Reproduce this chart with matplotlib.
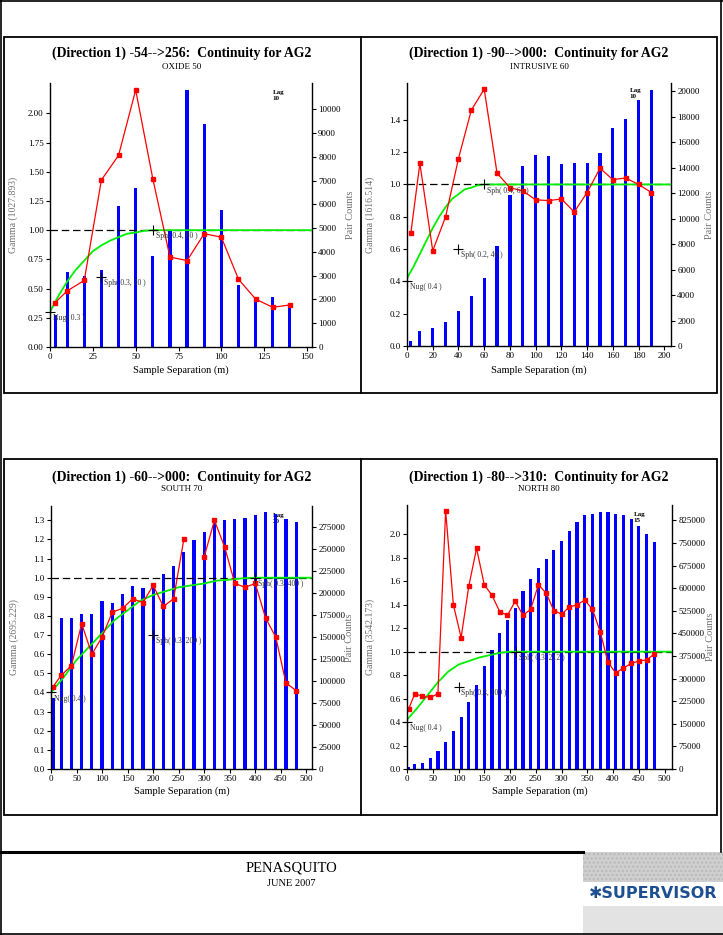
import numpy as np
import matplotlib
matplotlib.use('Agg')
import matplotlib.pyplot as plt
from matplotlib.patches import Rectangle
from matplotlib.ticker import FormatStrFormatter, MultipleLocator

plt.rcParams['font.family'] = ['Liberation Serif', 'DejaVu Serif']

# ---- datos ----
# Panel 1: OXIDE 50
lag1 = [3, 10, 20, 30, 40, 50, 60, 70, 80, 90, 100, 110, 120, 130, 140]
gam1 = [0.38, 0.48, 0.57, 1.43, 1.64, 2.20, 1.44, 0.77, 0.74, 0.97, 0.94, 0.58, 0.41, 0.34, 0.36]
pairs1 = [1340, 3170, 2990, 3240, 5920, 6680, 3830, 4930, 10800, 9370, 5780, 2610, 2040, 2110, 1820]
mod_h1 = [0, 5, 10, 15, 20, 25, 30, 35, 40, 45, 50, 55, 60]
mod_g1 = [0.30, 0.44, 0.56, 0.66, 0.74, 0.82, 0.87, 0.91, 0.94, 0.97, 0.98, 0.995, 1.0]
marks1 = [(0, 0.3, 'Nug( 0.3 )'), (30, 0.6, 'Sph( 0.3, 30 )'), (60, 1.0, 'Sph( 0.4, 60 )')]

# Panel 2: INTRUSIVE 60
lag2 = [3, 10, 20, 30, 40, 50, 60, 70, 80, 90, 100, 110, 120, 130, 140, 150, 160, 170, 180, 190]
gam2 = [0.70, 1.13, 0.59, 0.80, 1.16, 1.46, 1.59, 1.07, 0.98, 0.96, 0.905, 0.90, 0.91, 0.83,
        0.95, 1.10, 1.03, 1.04, 1.00, 0.95]
pairs2 = [420, 1210, 1440, 1890, 2780, 3960, 5320, 7890, 11870, 14100, 14970, 14890, 14260,
          14340, 14340, 15120, 17090, 17850, 19290, 20130]
mod_h2 = [0, 5, 10, 15, 20, 25, 30, 35, 40, 45, 50, 55, 60]
mod_g2 = [0.42, 0.49, 0.57, 0.65, 0.73, 0.80, 0.86, 0.91, 0.94, 0.97, 0.98, 0.995, 1.0]
marks2 = [(0, 0.4, 'Nug( 0.4 )'), (40, 0.6, 'Sph( 0.2, 40 )'), (60, 1.0, 'Sph( 0.4, 60 )')]

# Panel 3: SOUTH 70
lag3 = [4, 20, 40, 60, 80, 100, 120, 140, 160, 180, 200, 220, 240, 260, 280, 300, 320, 340,
        360, 380, 400, 420, 440, 460, 480]
gam3 = [0.43, 0.49, 0.54, 0.76, 0.60, 0.69, 0.82, 0.84, 0.89, 0.87, 0.96, 0.85, 0.89, 1.20,
        np.nan, 1.11, 1.30, 1.16, 0.97, 0.95, 0.97, 0.79, 0.69, 0.45, 0.41]
pairs3 = [80200, 171700, 171700, 175900, 175900, 191000, 188400, 198600, 208000, 205400,
          211500, 221300, 230700, 246600, 259900, 269700, 281400, 282600, 283700, 285200,
          288200, 292000, 290100, 283700, 280700]
mod_h3 = [0, 25, 50, 75, 100, 125, 150, 175, 200, 225, 250, 275, 300, 325, 350, 375, 400]
mod_g3 = [0.40, 0.48, 0.57, 0.64, 0.71, 0.78, 0.83, 0.88, 0.91, 0.93, 0.95, 0.96, 0.97,
          0.985, 0.99, 0.997, 1.0]
marks3 = [(0, 0.4, 'Nug( 0.4 )'), (200, 0.7, 'Sph( 0.3, 200 )'), (400, 1.0, 'Sph( 0.3, 400 )')]

# Panel 4: NORTH 80
lag4 = [3, 15, 30, 45, 60, 75, 90, 105, 120, 135, 150, 165, 180, 195, 210, 225, 240, 255,
        270, 285, 300, 315, 330, 345, 360, 375, 390, 405, 420, 435, 450, 465, 480]
gam4 = [0.51, 0.64, 0.62, 0.61, 0.64, 2.20, 1.40, 1.12, 1.56, 1.88, 1.57, 1.48, 1.34, 1.31,
        1.43, 1.31, 1.36, 1.57, 1.50, 1.35, 1.32, 1.38, 1.40, 1.44, 1.36, 1.17, 0.91, 0.82,
        0.86, 0.90, 0.92, 0.93, 0.98]
pairs4 = [5500, 16600, 21000, 37600, 60800, 88500, 126000, 172500, 223400, 278700, 342800,
          394800, 452300, 494300, 533000, 590600, 630400, 668000, 696700, 726600, 756400,
          789600, 820600, 842700, 844900, 851500, 852600, 846000, 842700, 829400, 807300,
          779700, 752000]
mod_h4 = [0, 20, 40, 60, 80, 100, 120, 140, 160, 180, 200, 212]
mod_g4 = [0.42, 0.52, 0.63, 0.74, 0.83, 0.89, 0.92, 0.95, 0.97, 0.99, 1.0, 1.0]
marks4 = [(0, 0.4, 'Nug( 0.4 )'), (100, 0.7, 'Sph( 0.3, 100 )'), (212, 1.0, 'Sph( 0.3, 212 )')]

W, H = 723, 935
fig = plt.figure(figsize=(W / 100, H / 100), dpi=100)

# capa de fondo en pixeles para marcos y pie de pagina
bg = fig.add_axes([0, 0, 1, 1])
bg.set_xlim(0, W)
bg.set_ylim(H, 0)
bg.axis('off')
k = dict(color='black', lw=1.2)
bg.plot([1, 1], [0, H], **k)
bg.plot([0, W], [0.5, 0.5], **k)
bg.plot([721, 721], [0, 852], **k)
bg.plot([0, W], [934, 934], **k)
bg.plot([0, 583], [852, 852], color='black', lw=2.2)
for top, bot in [(37, 393), (459, 815)]:
    bg.add_patch(Rectangle((3.5, top), 713.5, bot - top, fill=False, ec='black', lw=1.3))
    bg.plot([361, 361], [top, bot], color='black', lw=1.3)
bg.add_patch(Rectangle((583, 852), 140, 30, fc='#cfcfcf', ec='#b8b8b8', hatch='....', lw=0))
bg.add_patch(Rectangle((583, 906), 140, 29, fc='#e3e3e3', ec='none'))
bg.text(653, 893, '\u2731SUPERVISOR', family=['DejaVu Sans'], fontweight='bold',
        fontsize=11.5, color='#1d4f91', ha='center', va='center')
bg.text(291, 868, 'PENASQUITO', fontsize=10.5, ha='center', va='center')
bg.text(291, 883, 'JUNE 2007', fontsize=7.5, ha='center', va='center')


def panel(px, py, title, sub, ylab, lags, gam, pairs, mh, mg, marks, lagtxt, lagxy,
          xmax, xstep, ymax, ytop, ystep, yfmt, rmax, rtop, rstep):
    x0, y0, x1, y1 = px
    ax = fig.add_axes([x0 / W, 1 - y1 / H, (x1 - x0) / W, (y1 - y0) / H])
    ax2 = ax.twinx()
    ax.set_zorder(ax2.get_zorder() + 1)
    ax.patch.set_visible(False)

    bw = 3.2 * xmax / (x1 - x0)
    ax2.bar(lags, pairs, width=bw, color='#0000ff', zorder=2)
    ax2.text(lagxy[0], lagxy[1], lagtxt, transform=ax.transData, fontsize=5,
             fontweight='bold', ha='left', va='top', zorder=1, linespacing=1.3)

    ax.axhline(1.0, color='black', lw=0.9, ls=(0, (6, 3)))
    ax.plot(np.append(mh, xmax), np.append(mg, mg[-1]), color='#00ee00', lw=1.3)
    ax.plot(lags, gam, color='red', lw=0.9, marker='s', ms=3.0)
    for mx, my, t in marks:
        ax.plot(mx, my, marker='+', color='black', ms=7, mew=0.8, clip_on=False)
        ax.annotate(t, (mx, my), xytext=(2, -1.5), textcoords='offset points',
                    fontsize=5.5, ha='left', va='top', color='#333333')

    ax.set_xlim(0, xmax)
    ax.set_ylim(0, ymax)
    ax2.set_ylim(0, rmax)
    ax.xaxis.set_major_locator(MultipleLocator(xstep))
    ax.set_yticks(np.arange(0, ytop + ystep / 2, ystep))
    ax.yaxis.set_major_formatter(FormatStrFormatter(yfmt))
    ax2.set_yticks(np.arange(0, rtop + rstep / 2, rstep))
    ax2.yaxis.set_major_formatter(FormatStrFormatter('%d'))
    for a in (ax, ax2):
        a.tick_params(direction='out', length=3, width=0.8, labelsize=6.5, pad=1.5)
        for s in a.spines.values():
            s.set_linewidth(1.0)
        a.spines['top'].set_visible(False)
    ax.spines['right'].set_visible(False)
    ax2.spines['left'].set_visible(False)
    ax2.spines['bottom'].set_visible(False)

    ax.set_ylabel(ylab, fontsize=7, color='#707070')
    ax.yaxis.set_label_coords(-0.122, 0.5)
    ax2.set_ylabel('Pair Counts', fontsize=7.5, color='#707070')
    ax2.yaxis.set_label_coords(1.128, 0.5)

    cx = (x0 + x1) / 2
    bcx = 182 if x0 < 300 else 539
    fig.text(bcx / W, 1 - py[0] / H, title, fontsize=9.9, fontweight='bold',
             ha='center', va='center')
    fig.text(bcx / W, 1 - py[1] / H, sub, fontsize=6.5, ha='center', va='center')
    fig.text(cx / W, 1 - py[2] / H, 'Sample Separation (m)', fontsize=7.5,
             ha='center', va='center')


panel((50, 83, 312, 347), (53, 67, 370),
      '(Direction 1) -54-->256:  Continuity for AG2', 'OXIDE 50', 'Gamma (1027.893)',
      lag1, gam1, pairs1, mod_h1, mod_g1, marks1, 'Lag\n10', (130, 2.20),
      152.9, 25, 2.26, 2.0, 0.25, '%.2f', 11100, 10000, 1000)
panel((407, 83, 671, 346), (53, 67, 370),
      '(Direction 1) -90-->000:  Continuity for AG2', 'INTRUSIVE 60', 'Gamma (1616.514)',
      lag2, gam2, pairs2, mod_h2, mod_g2, marks2, 'Lag\n10', (173, 1.60),
      205.2, 20, 1.628, 1.4, 0.2, '%.1f', 20655, 20000, 2000)
panel((51, 506, 312, 769), (477, 489, 791),
      '(Direction 1) -60-->000:  Continuity for AG2', 'SOUTH 70', 'Gamma (2695.229)',
      lag3, gam3, pairs3, mod_h3, mod_g3, marks3, 'Lag\n20', (435, 1.34),
      511, 50, 1.375, 1.3, 0.1, '%.1f', 298800, 275000, 25000)
panel((407, 505, 672, 769), (477, 489, 791),
      '(Direction 1) -80-->310:  Continuity for AG2', 'NORTH 80', 'Gamma (3542.173)',
      lag4, gam4, pairs4, mod_h4, mod_g4, marks4, 'Lag\n15', (440, 2.19),
      514.3, 50, 2.25, 2.0, 0.2, '%.1f', 875800, 825000, 75000)

fig.savefig('out.png', dpi=100)
